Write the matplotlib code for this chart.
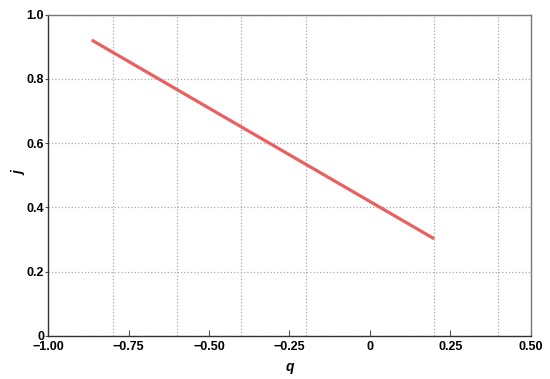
import matplotlib
matplotlib.use("Agg")
import matplotlib.pyplot as plt
import numpy as np

# data
q = [-0.865, 0.20]
j = [0.921, 0.302]

x_ticks = [-1.0, -0.75, -0.5, -0.25, 0.0, 0.25, 0.5]
x_labels = ["\u22121.00", "\u22120.75", "\u22120.50", "\u22120.25", "0", "0.25", "0.50"]
x_grid = [-0.8, -0.6, -0.4, -0.2, 0.0, 0.2, 0.4]
y_ticks = [0, 0.2, 0.4, 0.6, 0.8, 1.0]
y_labels = ["0", "0.2", "0.4", "0.6", "0.8", "1.0"]

plt.rcParams['font.family'] = ['Liberation Sans', 'DejaVu Sans']
plt.rcParams['font.weight'] = 'bold'

fig = plt.figure(figsize=(5.5, 3.79), dpi=100)
ax = fig.add_axes([0.0878, 0.1142, 0.877, 0.847])

ax.plot(q, j, color='#ea5f5f', lw=2.3, solid_capstyle='butt', zorder=3)

ax.set_xlim(-1.0, 0.5)
ax.set_ylim(0, 1.0)

ax.set_xticks(x_ticks)
ax.set_xticklabels(x_labels, fontsize=9, fontweight='bold')
ax.set_xticks(x_grid, minor=True)
ax.set_yticks(y_ticks)
ax.set_yticklabels(y_labels, fontsize=9, fontweight='bold')

ax.tick_params(axis='x', which='major', direction='in', length=4, width=0.8,
               color='#555555', pad=4, top=False)
ax.tick_params(axis='x', which='minor', length=0)
ax.tick_params(axis='y', which='major', direction='out', length=2, width=0.8,
               color='#555555', pad=1)

ax.grid(True, axis='x', which='minor', linestyle=':', color='#aaaaaa', lw=0.9)
ax.grid(True, axis='y', which='major', linestyle=':', color='#aaaaaa', lw=0.9)
ax.grid(False, axis='x', which='major')

for side in ['top', 'right']:
    ax.spines[side].set_color('#777777')
    ax.spines[side].set_linewidth(1.0)
for side in ['left', 'bottom']:
    ax.spines[side].set_color('#333333')
    ax.spines[side].set_linewidth(1.0)

ax.set_xlabel('q', fontsize=10, fontstyle='italic', fontweight='bold')
ax.set_ylabel('j', fontsize=10, fontstyle='italic', fontweight='bold')
ax.xaxis.set_label_coords(0.501, -0.0966)
ax.xaxis.label.set_va('center')
ax.yaxis.set_label_coords(-0.06, 0.507)
ax.yaxis.label.set_va('center')

plt.savefig('out.png')
